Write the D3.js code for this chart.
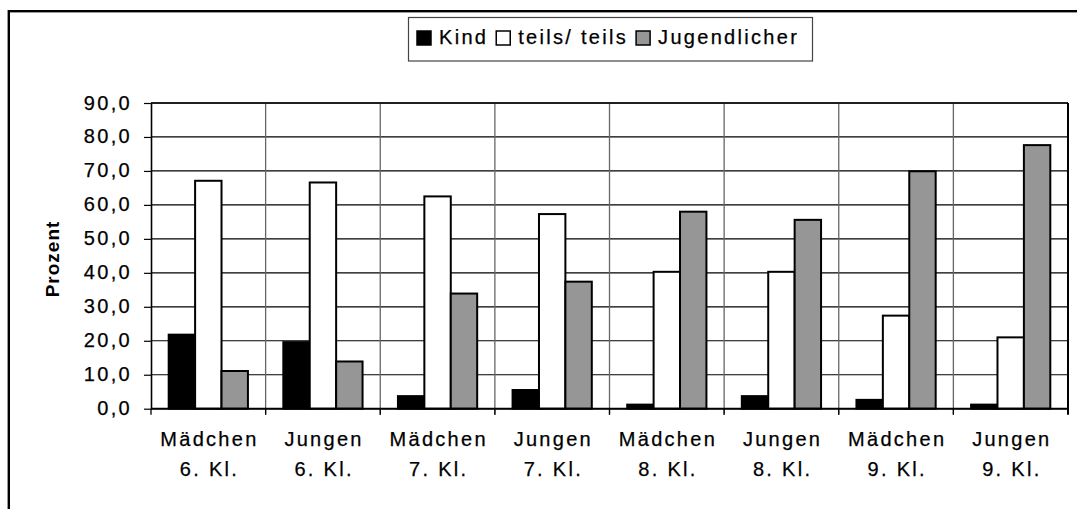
<!DOCTYPE html>
<html><head><meta charset="utf-8">
<script src="https://cdn.jsdelivr.net/npm/d3@7"></script>
<style>
body{margin:0;background:#fff;}
svg{display:block;font-family:"Liberation Sans",Arial,sans-serif;}
svg text{stroke:#000;stroke-width:0.25px;}
</style></head>
<body><svg id="c" width="1077" height="509"></svg>
<script>
const categories = ["Mädchen|6. Kl.","Jungen|6. Kl.","Mädchen|7. Kl.","Jungen|7. Kl.","Mädchen|8. Kl.","Jungen|8. Kl.","Mädchen|9. Kl.","Jungen|9. Kl."];
const seriesNames = ["Kind","teils/ teils","Jugendlicher"];
const kind = [21.8, 19.6, 3.7, 5.5, 1.2, 3.7, 2.6, 1.2];
const teils = [67.1, 66.6, 62.5, 57.3, 40.3, 40.3, 27.4, 21.0];
const jugendlicher = [11.1, 13.9, 33.9, 37.4, 58.0, 55.6, 69.9, 77.6];
const yTicks = [0,10,20,30,40,50,60,70,80,90];
const seriesColors = ["#000000","#ffffff","#969696"];
const yTitle = "Prozent";

const values = [kind, teils, jugendlicher];
const svg = d3.select("#c");
const fs = 20, ls = 2.3;

// outer frame
svg.append("rect").attr("x",8.8).attr("y",11.2).attr("width",1100).attr("height",520)
  .attr("fill","none").attr("stroke","#000").attr("stroke-width",2.4);

const L=151, R=1068, T=103, B=408.7;
const x0 = d3.scaleBand().domain(categories).range([L,R]).paddingInner(0).paddingOuter(0);
const x1 = d3.scaleBand().domain(seriesNames).range([0,x0.bandwidth()]).paddingInner(0).paddingOuter(0.67);
const y = d3.scaleLinear().domain([0,90]).range([B,T]);
const loc = d3.formatLocale({decimal:",",thousands:".",grouping:[3],currency:["","€"]});
const fmt = loc.format(".1f");

// horizontal grid
svg.append("g").selectAll("line").data(yTicks).join("line")
  .attr("x1",L).attr("x2",R).attr("y1",d=>y(d)).attr("y2",d=>y(d))
  .attr("stroke","#000").attr("stroke-width",1.2);
// vertical category dividers
svg.append("g").selectAll("line").data(categories.slice(1)).join("line")
  .attr("x1",d=>x0(d)).attr("x2",d=>x0(d)).attr("y1",T).attr("y2",B+6)
  .attr("stroke","#666").attr("stroke-width",1.3);
// plot border
svg.append("line").attr("x1",R).attr("x2",R).attr("y1",T).attr("y2",B+6).attr("stroke","#000").attr("stroke-width",2);
svg.append("line").attr("x1",L).attr("x2",R).attr("y1",T).attr("y2",T).attr("stroke","#000").attr("stroke-width",1.6);

// bars
const g = svg.append("g");
seriesNames.forEach((s,si)=>{
  g.selectAll(".b"+si).data(categories).join("rect")
    .attr("x",(d)=>x0(d)+x1(s))
    .attr("y",(d,i)=>y(values[si][i]))
    .attr("width",x1.bandwidth())
    .attr("height",(d,i)=>B-y(values[si][i]))
    .attr("fill",seriesColors[si]).attr("stroke","#000").attr("stroke-width",2);
});

// y axis
const ya = svg.append("g").attr("transform",`translate(${L},0)`)
  .call(d3.axisLeft(y).tickValues(yTicks).tickFormat(fmt).tickSize(7).tickPadding(12).tickSizeOuter(0));
ya.select(".domain").attr("stroke","#000").attr("stroke-width",1.6);
ya.selectAll(".tick line").attr("stroke","#000").attr("stroke-width",1.2);
ya.selectAll("text").attr("font-size",fs).attr("letter-spacing",ls).attr("fill","#000")
  .attr("font-family","'Liberation Sans',Arial,sans-serif").attr("dy","0.3em");

// x axis baseline + ticks
const xa = svg.append("g").attr("transform",`translate(0,${B})`);
xa.append("line").attr("x1",L).attr("x2",R).attr("stroke","#000").attr("stroke-width",2);
xa.selectAll(".xt").data(categories).join("line").attr("class","xt")
  .attr("x1",d=>x0(d)).attr("x2",d=>x0(d)).attr("y1",0).attr("y2",6).attr("stroke","#000").attr("stroke-width",1.3);
const lab = xa.selectAll(".xl").data(categories).join("text").attr("class","xl")
  .attr("text-anchor","middle").attr("font-size",fs).attr("letter-spacing",ls);
lab.each(function(d){
  const t=d3.select(this), parts=d.split("|"), cx=x0(d)+x0.bandwidth()/2+ls/2;
  parts.forEach((p,k)=>t.append("tspan").attr("x",cx).attr("y",37+k*30).text(p));
});

// y title
svg.append("text").attr("transform","translate(58.5,259) rotate(-90)")
  .attr("text-anchor","middle").attr("font-size",19).attr("font-weight","bold").attr("letter-spacing",1)
  .style("stroke-width","0px").text(yTitle);

// legend
const lg = svg.append("g");
const box = lg.append("rect").attr("fill","#fff").attr("stroke","#444").attr("stroke-width",1.2);
let cx = 417;
seriesNames.forEach((s,i)=>{
  lg.append("rect").attr("x",cx).attr("y",31).attr("width",14).attr("height",14)
    .attr("fill",seriesColors[i]).attr("stroke","#000").attr("stroke-width",1.5);
  const t = lg.append("text").attr("x",cx+22).attr("y",43.5).attr("font-size",fs).attr("letter-spacing",ls).text(s);
  cx = cx+22+t.node().getComputedTextLength()+8;
});
box.attr("x",408.5).attr("y",17.5).attr("width",812.5-408.5).attr("height",61-17.5);
</script></body></html>
